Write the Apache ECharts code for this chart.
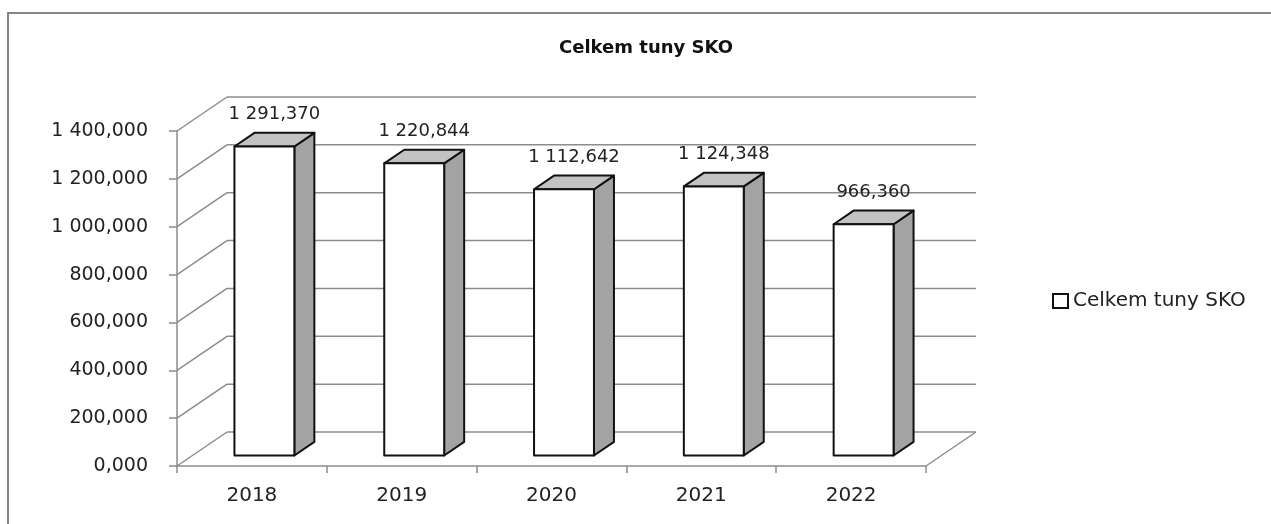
<!DOCTYPE html>
<html>
<head>
<meta charset="utf-8">
<title>Celkem tuny SKO</title>
<script src="https://cdn.jsdelivr.net/npm/echarts@6/dist/echarts.min.js"></script>
<style>
  html, body { margin: 0; padding: 0; background: #fff; }
  #chart { width: 1271px; height: 524px; }
</style>
</head>
<body>
<div id="chart"></div>
<script>
// data
var years = ['2018', '2019', '2020', '2021', '2022'];
var tunySKO = [1291.370, 1220.844, 1112.642, 1124.348, 966.360];
var yTicks = [0, 200, 400, 600, 800, 1000, 1200, 1400];
var seriesName = 'Celkem tuny SKO';

// hloubka "3D" (posun zadni steny)
var DX = 50, DY = -34;
var F0 = 0.31, F1 = 0.71;   // predni a zadni strana sloupce v hloubce
var GRID_COLOR = '#8c8c8c';
var FONT = 'DejaVu Sans';

// cesky format 1 291,370
function fmtCZ(v) {
  var s = Number(v).toFixed(3).split('.');
  s[0] = s[0].replace(/\B(?=(\d{3})+(?!\d))/g, ' ');
  return s.join(',');
}

function P(x, y, f) {
  return [x + DX * f, y + DY * f];
}

//mrizka - leva stena a zadni stena
function renderWalls(params, api) {
  var cs = params.coordSys;
  var pt = api.coord([0, api.value(1)]);
  var y = pt[1];
  var left = cs.x, right = cs.x + cs.width;
  var lineStyle = { stroke: GRID_COLOR, lineWidth: 1.5 };
  var children = [
    { type: 'line', shape: { x1: left, y1: y, x2: left + DX, y2: y + DY }, style: lineStyle },
    { type: 'line', shape: { x1: left + DX, y1: y + DY, x2: right + DX, y2: y + DY }, style: lineStyle }
  ];
  if (api.value(1) === 0) {
    // prava hrana podlahy
    children.push({ type: 'line', shape: { x1: right, y1: y, x2: right + DX, y2: y + DY }, style: lineStyle });
  }
  return { type: 'group', children: children };
}

//sloupce
function renderBar(params, api) {
  var idx = api.value(0);
  var val = api.value(1);
  var top = api.coord([idx, val]);
  var base = api.coord([idx, 0]);
  var band = api.size([1, 0])[0];
  var x0 = top[0] - band / 2 + 0.28 * band;
  var x1 = x0 + 0.4 * band;
  var yT = top[1], yB = base[1];
  var border = { stroke: '#111', lineWidth: 2, lineJoin: 'round' };

  var front = [P(x0, yT, F0), P(x1, yT, F0), P(x1, yB, F0), P(x0, yB, F0)];
  var topFace = [P(x0, yT, F0), P(x1, yT, F0), P(x1, yT, F1), P(x0, yT, F1)];
  var side = [P(x1, yT, F0), P(x1, yT, F1), P(x1, yB, F1), P(x1, yB, F0)];
  var mid = P((x0 + x1) / 2, yT, (F0 + F1) / 2);

  return {
    type: 'group',
    children: [
      { type: 'polygon', shape: { points: side }, style: Object.assign({ fill: '#a3a3a3' }, border) },
      { type: 'polygon', shape: { points: topFace }, style: Object.assign({ fill: '#c2c2c2' }, border) },
      { type: 'polygon', shape: { points: front }, style: Object.assign({ fill: '#ffffff' }, border) },
      {
        type: 'text',
        x: mid[0], y: mid[1] - 25,
        style: {
          text: fmtCZ(val), fill: '#222', font: '18px "' + FONT + '"',
          align: 'center', verticalAlign: 'middle'
        }
      }
    ]
  };
}

var chart = echarts.init(document.getElementById('chart'));

var option = {
  backgroundColor: '#fff',
  animation: false,
  title: {
    text: seriesName,
    left: 554, top: 34,
    textStyle: { fontFamily: FONT, fontSize: 18, fontWeight: 'bold', color: '#111' }
  },
  legend: {
    data: [{ name: seriesName, icon: 'rect' }],
    left: 1047, top: 286,
    itemWidth: 15, itemHeight: 14,
    itemStyle: { color: '#fff', borderColor: '#111', borderWidth: 2 },
    textStyle: { fontFamily: FONT, fontSize: 20, color: '#222' }
  },
  graphic: [{
    type: 'rect',
    shape: { x: 8, y: 13, width: 1400, height: 700 },
    style: { fill: 'none', stroke: '#868686', lineWidth: 2 },
    silent: true
  }],
  grid: { left: 177, right: 345, top: 131, bottom: 58 },
  xAxis: {
    type: 'category',
    data: years,
    axisLine: { lineStyle: { color: GRID_COLOR, width: 1.5 } },
    axisTick: { show: true, length: 7, lineStyle: { color: GRID_COLOR, width: 1.5 } },
    axisLabel: { margin: 20, fontFamily: FONT, fontSize: 20, color: '#222' },
    splitLine: { show: false }
  },
  yAxis: {
    type: 'value',
    min: 0, max: 1400, interval: 200,
    axisLine: { show: true, lineStyle: { color: GRID_COLOR, width: 1.5 } },
    axisTick: { show: true, length: 8, lineStyle: { color: GRID_COLOR, width: 1.5 } },
    axisLabel: { margin: 29, fontFamily: FONT, fontSize: 19, color: '#222', formatter: fmtCZ },
    splitLine: { show: false }
  },
  series: [
    {
      type: 'custom',
      name: 'grid-walls',
      silent: true,
      z: 1,
      renderItem: renderWalls,
      data: yTicks.map(function (v) { return [0, v]; })
    },
    {
      type: 'custom',
      name: seriesName,
      z: 3,
      itemStyle: { color: '#fff', borderColor: '#111', borderWidth: 2 },
      renderItem: renderBar,
      data: tunySKO.map(function (v, i) { return [i, v]; })
    }
  ]
};

chart.setOption(option);
</script>
</body>
</html>
